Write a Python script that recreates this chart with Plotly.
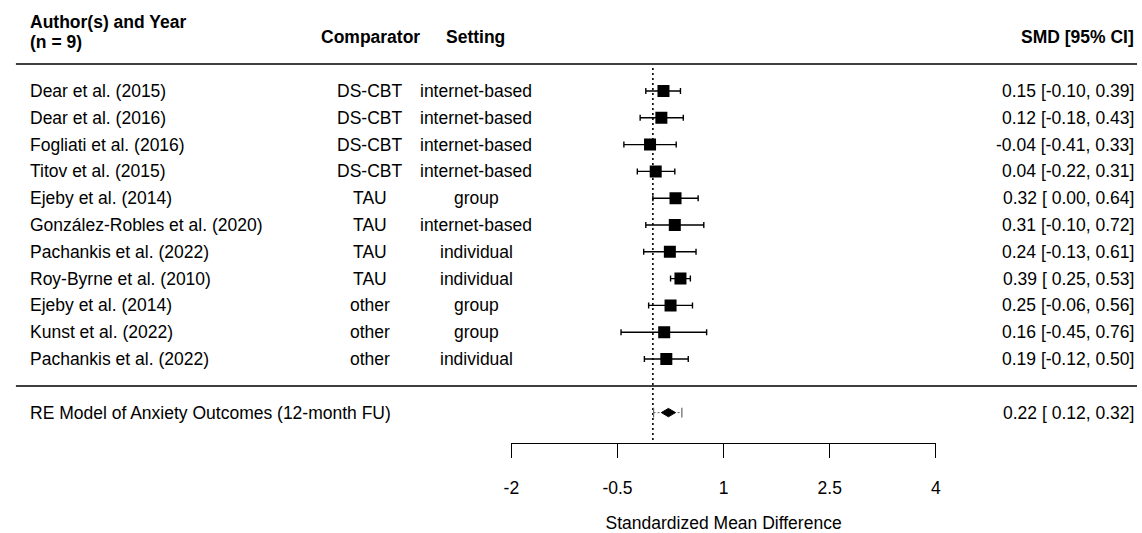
import plotly.graph_objects as go

# ---- data ----
authors = ["Dear et al. (2015)", "Dear et al. (2016)", "Fogliati et al. (2016)", "Titov et al. (2015)",
           "Ejeby et al. (2014)", "González-Robles et al. (2020)", "Pachankis et al. (2022)",
           "Roy-Byrne et al. (2010)", "Ejeby et al. (2014)", "Kunst et al. (2022)", "Pachankis et al. (2022)"]
comparator = ["DS-CBT", "DS-CBT", "DS-CBT", "DS-CBT", "TAU", "TAU", "TAU", "TAU", "other", "other", "other"]
setting = ["internet-based", "internet-based", "internet-based", "internet-based", "group", "internet-based",
           "individual", "individual", "group", "group", "individual"]
smd = [0.15, 0.12, -0.04, 0.04, 0.32, 0.31, 0.24, 0.39, 0.25, 0.16, 0.19]
ci_lo = [-0.10, -0.18, -0.41, -0.22, 0.00, -0.10, -0.13, 0.25, -0.06, -0.45, -0.12]
ci_hi = [0.39, 0.43, 0.33, 0.31, 0.64, 0.72, 0.61, 0.53, 0.56, 0.76, 0.50]

re_label = "RE Model of Anxiety Outcomes (12-month FU)"
re_est, re_lo, re_hi = 0.22, 0.12, 0.32
pi_lo, pi_hi = 0.01, 0.41

tick_vals = [-2, -0.5, 1, 2.5, 4]
tick_text = ["-2", "-0.5", "1", "2.5", "4"]

# ---- layout geometry ----
W, H = 1142, 533
ROW1_PX, ROW_H = 359.0, 26.8
def row(px):
    return 1 + (ROW1_PX - px) / ROW_H

k = len(smd)
rows = [k - i for i in range(k)]
re_row = -1
AXIS_PX = 442.7
FONT = "Liberation Sans, Arial, sans-serif"
FS = 17.5

fig = go.Figure()

# reference line at 0
fig.add_trace(go.Scatter(x=[0, 0], y=[row(68), row(AXIS_PX)], mode="lines",
                         line=dict(color="black", width=1.6, dash="2px,3px"),
                         hoverinfo="skip", showlegend=False))

# study estimates with CIs
fig.add_trace(go.Scatter(
    x=smd, y=rows, mode="markers",
    marker=dict(symbol="square", size=12, color="black", line=dict(width=0)),
    error_x=dict(type="data", symmetric=False,
                 array=[h - e for h, e in zip(ci_hi, smd)],
                 arrayminus=[e - l for e, l in zip(smd, ci_lo)],
                 color="black", thickness=1.4, width=3),
    showlegend=False, hoverinfo="skip"))

# prediction interval
fig.add_trace(go.Scatter(x=[pi_lo, pi_hi], y=[re_row, re_row], mode="lines+markers",
                         line=dict(color="#666666", width=1, dash="2px,2px"),
                         marker=dict(symbol="line-ns-open", size=7, line=dict(color="#666666", width=1.2)),
                         showlegend=False, hoverinfo="skip"))
# summary diamond
dh = 4.2 / ROW_H
fig.add_trace(go.Scatter(x=[re_lo, re_est, re_hi, re_est, re_lo],
                         y=[re_row, re_row + dh, re_row, re_row - dh, re_row],
                         mode="lines", fill="toself", fillcolor="black",
                         line=dict(color="black", width=1), showlegend=False, hoverinfo="skip"))

shapes = []
for py in [64, 386]:
    shapes.append(dict(type="line", xref="paper", yref="y", x0=8 / W, x1=1.0, y0=row(py), y1=row(py),
                       line=dict(color="black", width=1.4)))

ann = []
def add_text(txt, xpx, y, anchor, bold=False):
    ann.append(dict(text=f"<b>{txt}</b>" if bold else txt, xref="paper", yref="y",
                    x=xpx / W, y=y, xanchor=anchor, yanchor="middle", showarrow=False,
                    borderpad=0, borderwidth=0,
                    font=dict(family=FONT, size=FS, color="black")))

LEFT_X = 22.5
RIGHT_X = 1139.3
add_text("Author(s) and Year", LEFT_X, row(21.7), "left", True)
add_text("(n = 9)", LEFT_X, row(41.7), "left", True)
add_text("Comparator", 366.7, 13, "center", True)
add_text("Setting", 473.3, 13, "center", True)
add_text("SMD [95% CI]", RIGHT_X, 13, "right", True)

for i in range(k):
    add_text(authors[i], LEFT_X, rows[i], "left")
    add_text(comparator[i], 366, rows[i], "center")
    add_text(setting[i], 473.5, rows[i], "center")
    add_text(f"{smd[i]:.2f} [{ci_lo[i]:5.2f}, {ci_hi[i]:.2f}]", RIGHT_X, rows[i], "right")

add_text(re_label, LEFT_X, re_row, "left")
add_text(f"{re_est:.2f} [{re_lo:5.2f}, {re_hi:.2f}]", RIGHT_X, re_row, "right")

fig.update_layout(
    width=W, height=H, margin=dict(l=0, r=0, t=0, b=0),
    paper_bgcolor="white", plot_bgcolor="white",
    font=dict(family=FONT, size=FS, color="black"),
    shapes=shapes, annotations=ann, showlegend=False,
    xaxis=dict(domain=[509.2 / W, 938.5 / W], range=[-2, 4], anchor="free", position=1 - AXIS_PX / H,
               showline=True, linecolor="black", linewidth=1.4, ticks="outside", ticklen=14,
               tickwidth=1.4, tickcolor="black", tickvals=tick_vals, ticktext=tick_text,
               tickfont=dict(family=FONT, size=FS, color="black"), ticklabelstandoff=15,
               showgrid=False, zeroline=False,
               title=dict(text="Standardized Mean Difference", standoff=19,
                          font=dict(family=FONT, size=FS, color="black"))),
    yaxis=dict(domain=[0, 1], range=[row(H), row(0)], visible=False, showgrid=False, zeroline=False),
)

fig.write_html("out.html")
